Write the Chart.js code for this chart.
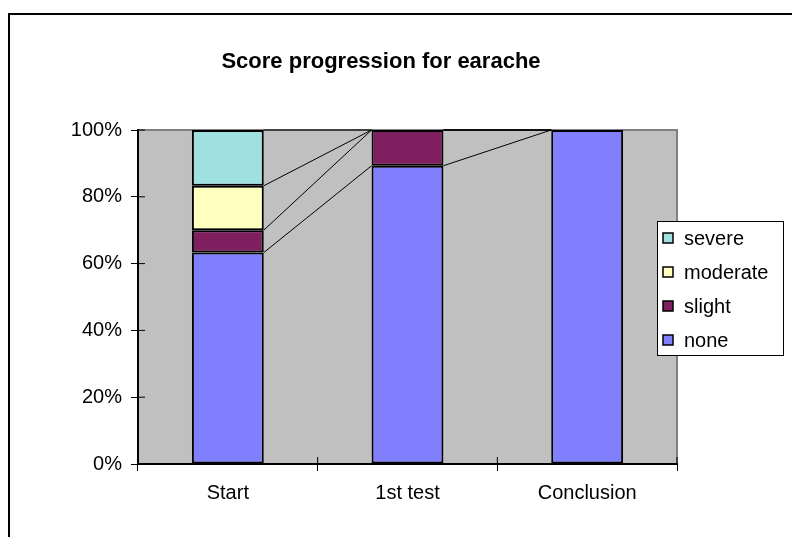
<!DOCTYPE html>
<html lang="en">
  <head>
    <meta charset="UTF-8" />
    <title>Score progression for earache</title>
    <style>
      html, body { margin: 0; padding: 0; background: #fff; }
      #wrap { width: 792px; height: 537px; }
    </style>
    <script src="https://cdn.jsdelivr.net/npm/chart.js@4/dist/chart.umd.min.js"></script>
  </head>
  <body>
    <div id="wrap"><canvas id="earache" width="792" height="537"></canvas></div>
    <script>
      // values (percent of patients)
      const categories = ["Start", "1st test", "Conclusion"];
      const none = [63.3, 89.3, 100];
      const slight = [6.7, 10.7, 0];
      const moderate = [13.3, 0, 0];
      const severe = [16.7, 0, 0];
      const yTicks = [0, 20, 40, 60, 80, 100];
      const titleText = "Score progression for earache";

      const FONT = "'Liberation Sans', Arial, sans-serif";
      Chart.defaults.font.family = FONT;
      Chart.defaults.font.size = 20;
      Chart.defaults.color = "#000";

      // frame, plot background, title
      const backdrop = {
        id: "backdrop",
        beforeDraw(chart) {
          const ctx = chart.ctx;
          const a = chart.chartArea;
          ctx.save();
          ctx.fillStyle = "#fff";
          ctx.fillRect(0, 0, chart.width, chart.height);
          ctx.strokeStyle = "#000";
          ctx.lineWidth = 2;
          ctx.beginPath();
          ctx.moveTo(9, chart.height);
          ctx.lineTo(9, 14);
          ctx.lineTo(chart.width, 14);
          ctx.stroke();
          ctx.fillStyle = "#c0c0c0";
          ctx.fillRect(a.left, a.top, a.right - a.left, a.bottom - a.top);
          ctx.strokeStyle = "#808080";
          ctx.lineWidth = 2;
          ctx.beginPath();
          ctx.moveTo(a.left, a.top);
          ctx.lineTo(a.right, a.top);
          ctx.lineTo(a.right, a.bottom);
          ctx.stroke();
          ctx.fillStyle = "#000";
          ctx.font = "bold 22px " + FONT;
          ctx.textAlign = "center";
          ctx.textBaseline = "middle";
          ctx.fillText(titleText, 381, 62);
          ctx.restore();
        },
      };

      // excel style series lines + inner half of the cross ticks + legend
      const extras = {
        id: "extras",
        afterDatasetsDraw(chart) {
          const ctx = chart.ctx;
          const a = chart.chartArea;
          ctx.save();
          ctx.strokeStyle = "#000";
          ctx.lineWidth = 1;
          chart.data.datasets.forEach((ds, d) => {
            const bars = chart.getDatasetMeta(d).data;
            for (let i = 0; i < bars.length - 1; i++) {
              const p = bars[i], q = bars[i + 1];
              ctx.beginPath();
              ctx.moveTo(p.x + p.width / 2, p.y);
              ctx.lineTo(q.x - q.width / 2, q.y);
              ctx.stroke();
            }
          });
          // inner tick parts
          const ys = chart.scales.y, xs = chart.scales.x;
          ctx.beginPath();
          ys.ticks.forEach((t, i) => {
            const y = ys.getPixelForTick(i);
            ctx.moveTo(a.left, y);
            ctx.lineTo(a.left + 7, y);
          });
          for (let i = 1; i <= categories.length; i++) {
            const x = a.left + (i * (a.right - a.left)) / categories.length;
            ctx.moveTo(x, a.bottom);
            ctx.lineTo(x, a.bottom - 7);
          }
          ctx.stroke();
          ctx.restore();
        },
        afterDraw(chart) {
          const ctx = chart.ctx;
          const box = { x: 657, y: 221, w: 126, h: 134 };
          ctx.save();
          ctx.fillStyle = "#fff";
          ctx.fillRect(box.x, box.y, box.w, box.h);
          ctx.strokeStyle = "#000";
          ctx.lineWidth = 1;
          ctx.strokeRect(box.x + 0.5, box.y + 0.5, box.w, box.h);
          ctx.font = "20px " + FONT;
          ctx.textBaseline = "middle";
          ctx.textAlign = "left";
          const items = chart.data.datasets.slice().reverse();
          items.forEach((ds, k) => {
            const cy = 238 + k * 34;
            ctx.fillStyle = ds.backgroundColor;
            ctx.fillRect(663, cy - 5, 10, 10);
            ctx.lineWidth = 1.5;
            ctx.strokeStyle = "#000";
            ctx.strokeRect(663, cy - 5, 10, 10);
            ctx.fillStyle = "#000";
            ctx.fillText(ds.label, 684, cy + 1);
          });
          ctx.restore();
        },
      };

      const barStyle = { borderColor: "#000", borderWidth: 2, borderSkipped: false };

      new Chart(document.getElementById("earache"), {
        type: "bar",
        data: {
          labels: categories,
          datasets: [
            { label: "none", data: none, backgroundColor: "#8080ff", ...barStyle },
            { label: "slight", data: slight, backgroundColor: "#7f1f5f", ...barStyle },
            { label: "moderate", data: moderate, backgroundColor: "#ffffc0", ...barStyle },
            { label: "severe", data: severe, backgroundColor: "#a0e0e0", ...barStyle },
          ],
        },
        options: {
          responsive: false,
          animation: false,
          events: [],
          layout: { padding: { left: 0, right: 115, top: 130, bottom: 33 } },
          categoryPercentage: 1,
          barPercentage: 0.4,
          plugins: { legend: { display: false }, title: { display: false }, tooltip: { enabled: false } },
          scales: {
            x: {
              stacked: true,
              afterFit: (s) => { s.height = 40; },
              grid: { drawOnChartArea: false, color: "#000", tickLength: 7, offset: true },
              border: { color: "#000", width: 2 },
              ticks: { padding: 10, color: "#000" },
            },
            y: {
              stacked: true,
              min: 0,
              max: 100,
              afterFit: (s) => { s.width = 138; },
              afterBuildTicks: (s) => { s.ticks = yTicks.map((v) => ({ value: v })); },
              grid: { drawOnChartArea: false, color: "#000", tickLength: 7 },
              border: { color: "#000", width: 2 },
              ticks: { padding: 9, color: "#000", callback: (v) => v + "%" },
            },
          },
        },
        plugins: [backdrop, extras],
      });
    </script>
  </body>
</html>
